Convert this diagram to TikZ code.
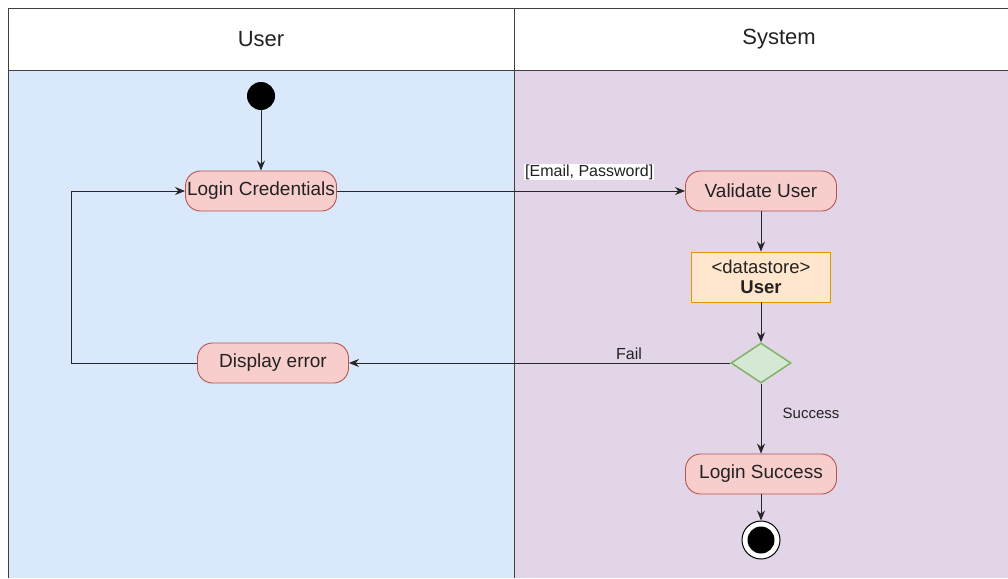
\documentclass[tikz,border=0pt]{standalone}
\usepackage{fontspec}
\setmainfont{Liberation Sans}
\usetikzlibrary{shapes.geometric,arrows.meta}
\definecolor{laneblue}{HTML}{DAE8FC}
\definecolor{lanepurple}{HTML}{E1D5E7}
\definecolor{actfill}{HTML}{F8CECC}
\definecolor{actdraw}{HTML}{B85450}
\definecolor{dsfill}{HTML}{FFE6CC}
\definecolor{dsdraw}{HTML}{D79B00}
\definecolor{decfill}{HTML}{D5E8D4}
\definecolor{decdraw}{HTML}{82B366}
\definecolor{txt}{HTML}{222222}
\tikzset{
  x=1pt, y=-1pt,
  act/.style={rounded corners=15pt, draw=actdraw, fill=actfill, line width=0.9pt,
    minimum width=151pt, minimum height=40pt, inner sep=0pt, text=txt, font=\fontsize{19}{20}\selectfont},
  dstore/.style={draw=dsdraw, fill=dsfill, line width=0.9pt, minimum width=139pt, minimum height=50pt,
    inner sep=0pt, align=center, text=txt, font=\fontsize{18.5}{19.5}\selectfont},
  decision/.style={diamond, draw=decdraw, fill=decfill, line width=1.5pt, minimum width=60pt,
    minimum height=40pt, inner sep=0pt, aspect=1.5},
  flow/.style={-{Stealth[length=10pt,width=8pt]}, line width=1pt, draw=black!85},
  lbl/.style={font=\fontsize{16}{18}\selectfont, text=txt, inner sep=1pt},
  hdr/.style={font=\fontsize{22}{24}\selectfont, text=txt}
}
\begin{document}
\begin{tikzpicture}
\useasboundingbox (0,0) rectangle (1008,578);
\fill[white] (0,0) rectangle (1008,578);
% lanes
\fill[laneblue] (8,70) rectangle (514,578);
\fill[lanepurple] (514,70) rectangle (1008,578);
\draw[line width=1pt, draw=black!75] (8,578) -- (8,9) -- (1008,9);
\draw[line width=1pt, draw=black!75] (8,70) -- (1008,70);
\draw[line width=1pt, draw=black!75] (514,9) -- (514,578);
\node[hdr] (huser) at (261,39) {User};
\node[hdr] (hsys) at (779,39) {System};
% nodes
\node[circle, fill=black, minimum size=28pt, inner sep=0pt] (start) at (261,96) {};
\node[act] (login) at (261,191) {Login Credentials};
\node[act] (validate) at (761,191) {Validate User};
\node[dstore] (ds) at (761,277) {<datastore>\\\textbf{User}};
\node[decision] (dec) at (761,363) {};
\node[act] (err) at (273,363) {Display error};
\node[act] (succ) at (761,474) {Login Success};
\node[circle, draw=black, line width=1pt, fill=white, minimum size=38pt, inner sep=0pt] (end) at (761,540) {};
\node[circle, fill=black, minimum size=27pt, inner sep=0pt] (endin) at (761,540) {};
\coordinate (lt) at (71,363);
\coordinate (lb) at (71,191);
% edges
\draw[flow] (start) -- (login);
\draw[flow] (login) -- (validate);
\node[lbl, fill=white, anchor=west] (lep) at (524,172) {[Email, Password]};
\draw[flow] (validate) -- (ds);
\draw[flow] (ds) -- (dec);
\draw[flow] (dec) -- (err);
\node[lbl] (lfail) at (629,354) {Fail};
\draw[flow] (dec) -- (succ);
\node[lbl, font=\fontsize{15}{17}\selectfont] (lsucc) at (811,413) {Success};
\draw[flow] (succ) -- (end);
\draw[flow] (err.west) -- (lt) -- (lb) -- (login.west);
\end{tikzpicture}
\end{document}
